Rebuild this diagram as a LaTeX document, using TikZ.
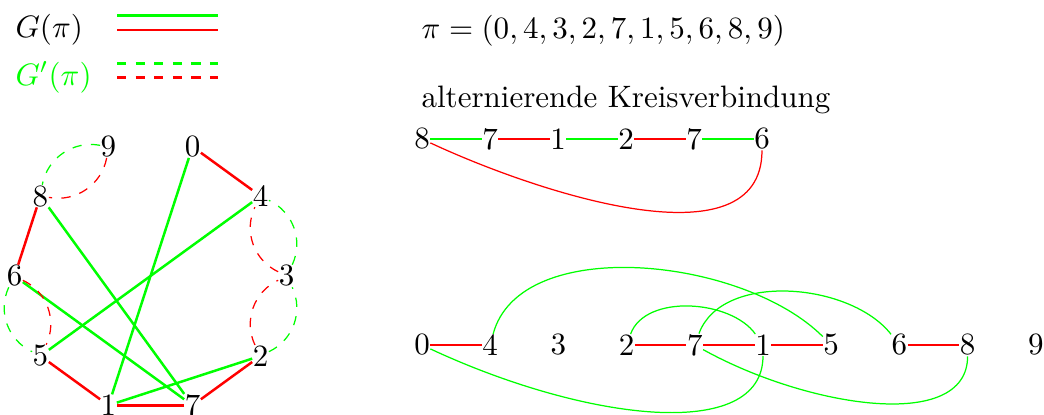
\documentclass[tikz,border=0pt]{standalone}
\begin{document}
\begin{tikzpicture}[x=0.3226pt,y=0.3226pt,
  num/.style={inner sep=0pt},
  gedge/.style={green,thick},
  redge/.style={red,thick},
  gcurve/.style={green},
  rcurve/.style={red},
  gdash/.style={green,dashed},
  rdash/.style={red,dashed},
  txt/.style={inner sep=0pt,anchor=base west}]
\useasboundingbox (0,0) rectangle (1044,414);
% legend
\node[txt] (lg) at (15,376.5) {$G(\pi)$};
\node[txt,text=green] (lgp) at (15,329) {$G'(\pi)$};
\coordinate (l1a) at (117,398.3); \coordinate (l1b) at (218,398.3);
\coordinate (l2a) at (117,384);   \coordinate (l2b) at (218,384);
\coordinate (l3a) at (117,350.7); \coordinate (l3b) at (218,350.7);
\coordinate (l4a) at (117,336.7); \coordinate (l4b) at (218,336.7);
\draw[gedge] (l1a) -- (l1b);
\draw[redge] (l2a) -- (l2b);
\draw[gedge,dashed] (l3a) -- (l3b);
\draw[redge,dashed] (l4a) -- (l4b);
% texts
\node[txt] (perm) at (421,376) {$\pi=(0,4,3,2,7,1,5,6,8,9)$};
\node[txt] (alt) at (421,307) {alternierende Kreisverbindung};
% circle
\begin{scope}[shift={(150.5,138)}]
\node[num] (c3) at (0:136) {3};
\node[num] (c4) at (36:136) {4};
\node[num] (c0) at (72:136) {0};
\node[num] (c9) at (108:136) {9};
\node[num] (c8) at (144:136) {8};
\node[num] (c6) at (180:136) {6};
\node[num] (c5) at (216:136) {5};
\node[num] (c1) at (252:136) {1};
\node[num] (c7) at (288:136) {7};
\node[num] (c2) at (324:136) {2};
\end{scope}
\draw[redge] (c0) -- (c4);
\draw[redge] (c2) -- (c7);
\draw[redge] (c7) -- (c1);
\draw[redge] (c1) -- (c5);
\draw[redge] (c6) -- (c8);
\draw[gedge] (c0) -- (c1);
\draw[gedge] (c1) -- (c2);
\draw[gedge] (c4) -- (c5);
\draw[gedge] (c8) -- (c7);
\draw[gedge] (c6) -- (c7);
\draw[gdash] (c9) to[bend right=45] (c8);
\draw[rdash] (c9) to[bend left=45] (c8);
\draw[gdash] (c3) to[bend right=45] (c4);
\draw[rdash] (c3) to[bend left=45] (c4);
\draw[gdash] (c2) to[bend right=45] (c3);
\draw[rdash] (c2) to[bend left=45] (c3);
\draw[gdash] (c6) to[bend right=45] (c5);
\draw[rdash] (c6) to[bend left=45] (c5);
% top chain
\node[num] (t8) at (422,275) {8};
\node[num] (t7a) at (490,275) {7};
\node[num] (t1) at (558,275) {1};
\node[num] (t2) at (626,275) {2};
\node[num] (t7b) at (694,275) {7};
\node[num] (t6) at (762,275) {6};
\draw[gedge] (t8) -- (t7a);
\draw[redge] (t7a) -- (t1);
\draw[gedge] (t1) -- (t2);
\draw[redge] (t2) -- (t7b);
\draw[gedge] (t7b) -- (t6);
\draw[rcurve] (t8) .. controls +(-25:127) and +(-90:128) .. (t6);
% bottom chain
\node[num] (b0) at (422,69) {0};
\node[num] (b4) at (490.2,69) {4};
\node[num] (b3) at (558.4,69) {3};
\node[num] (b2) at (626.6,69) {2};
\node[num] (b7) at (694.8,69) {7};
\node[num] (b1) at (763,69) {1};
\node[num] (b5) at (831.2,69) {5};
\node[num] (b6) at (899.4,69) {6};
\node[num] (b8) at (967.6,69) {8};
\node[num] (b9) at (1035.8,69) {9};
\draw[redge] (b0) -- (b4);
\draw[redge] (b2) -- (b7);
\draw[redge] (b7) -- (b1);
\draw[redge] (b1) -- (b5);
\draw[redge] (b6) -- (b8);
\draw[gcurve] (b4) .. controls +(75:115) and +(135:125) .. (b5);
\draw[gcurve] (b2) .. controls +(70:55) and +(125:55) .. (b1);
\draw[gcurve] (b7) .. controls +(70:78) and +(128:80) .. (b6);
\draw[gcurve] (b0) .. controls +(-25:180) and +(-90:98) .. (b1);
\draw[gcurve] (b7) .. controls +(-29:128) and +(-90:88) .. (b8);
\end{tikzpicture}
\end{document}
